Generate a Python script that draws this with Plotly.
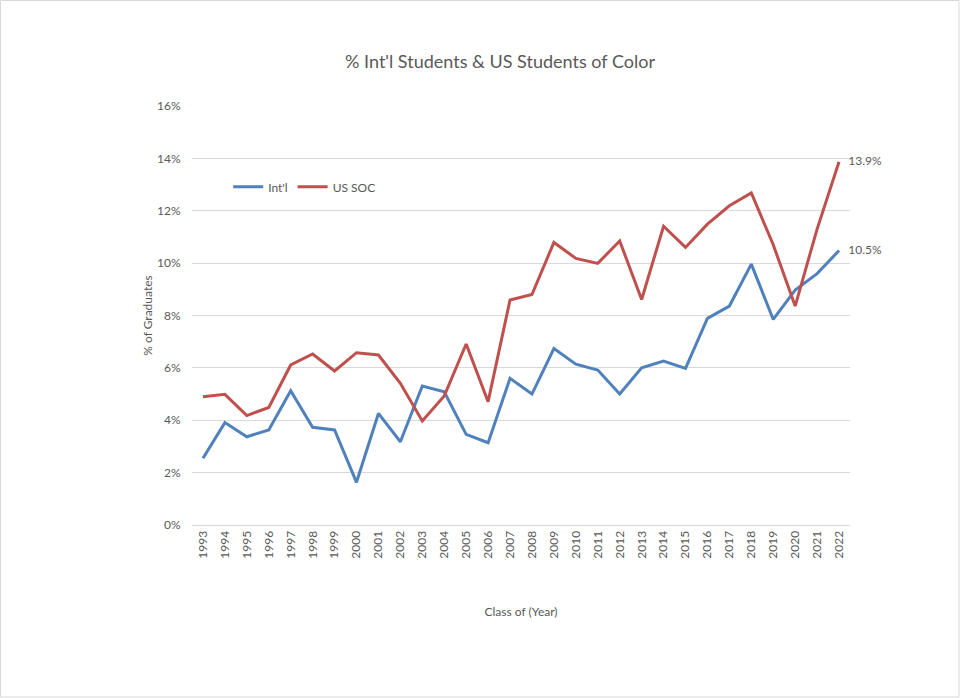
import plotly.graph_objects as go

# class years and shares of graduates (fractions)
years = [str(y) for y in range(1993, 2023)]
intl = [0.0255, 0.0391, 0.0337, 0.0363, 0.0513, 0.0373, 0.0363, 0.0163, 0.0426, 0.0318,
        0.0531, 0.0509, 0.0346, 0.0314, 0.0560, 0.0500, 0.0674, 0.0614, 0.0592, 0.0500,
        0.0600, 0.0626, 0.0598, 0.0789, 0.0836, 0.0996, 0.0785, 0.0897, 0.0960, 0.1048]
us_soc = [0.0490, 0.0499, 0.0418, 0.0449, 0.0611, 0.0653, 0.0588, 0.0658, 0.0649, 0.0541,
          0.0397, 0.0493, 0.0691, 0.0471, 0.0859, 0.0880, 0.1079, 0.1018, 0.0999, 0.1085,
          0.0861, 0.1141, 0.1060, 0.1149, 0.1219, 0.1268, 0.1070, 0.0836, 0.1130, 0.1387]

BLUE = "#4F81BD"
RED = "#C0504D"
GREY = "#595959"
FONT = "Lato"


def end_labels(vals):
    # only the last point gets a data label
    return [""] * (len(vals) - 1) + [f"   {vals[-1]:.1%}"]


fig = go.Figure()
fig.add_trace(go.Scatter(x=years, y=intl, name="Int'l", mode="lines+text",
                         line=dict(color=BLUE, width=3),
                         text=end_labels(intl), textposition="middle right",
                         textfont=dict(size=12, color=GREY), cliponaxis=False))
fig.add_trace(go.Scatter(x=years, y=us_soc, name="US SOC", mode="lines+text",
                         line=dict(color=RED, width=3),
                         text=end_labels(us_soc), textposition="middle right",
                         textfont=dict(size=12, color=GREY), cliponaxis=False))

fig.update_layout(
    width=960, height=698,
    margin=dict(l=192, r=110, t=106, b=173),
    paper_bgcolor="white", plot_bgcolor="white",
    font=dict(family=FONT, color=GREY, size=12),
    title=dict(text="% Int'l Students & US Students of Color", x=500 / 960, xanchor="center",
               y=0.912, yanchor="middle", font=dict(size=18, color=GREY)),
    showlegend=True,
    legend=dict(orientation="h", x=0.055, y=0.807, xanchor="left", yanchor="middle",
                bgcolor="rgba(0,0,0,0)", font=dict(size=12, color=GREY),
                itemwidth=30, tracegroupgap=0),
    xaxis=dict(type="category", range=[-0.5, 29.5], tickangle=-90, showgrid=False,
               showline=True, linecolor="#D9D9D9", linewidth=1, ticks="",
               tickfont=dict(size=12, color=GREY),
               title=dict(text="Class of (Year)", font=dict(size=12, color=GREY), standoff=49)),
    yaxis=dict(range=[0, 0.16], dtick=0.02, tickformat=".0%", showgrid=True,
               gridcolor="#D9D9D9", gridwidth=1, zeroline=False, showline=False,
               ticks="outside", ticklen=8, tickcolor="white",
               tickfont=dict(size=12, color=GREY),
               title=dict(text="% of Graduates", font=dict(size=12, color=GREY), standoff=1)),
)

# thin border round the whole chart area
fig.add_shape(type="rect", xref="paper", yref="paper",
              x0=-191.5 / 658, x1=1 + 109 / 658, y0=-172 / 419, y1=1 + 105.5 / 419,
              line=dict(color="#D9D9D9", width=1), fillcolor="rgba(0,0,0,0)")

# drop the page's default body margin so the figure sits at the top-left corner
fig.write_html("out.html", config={"displayModeBar": False},
               post_script="document.body.style.margin='0';")
